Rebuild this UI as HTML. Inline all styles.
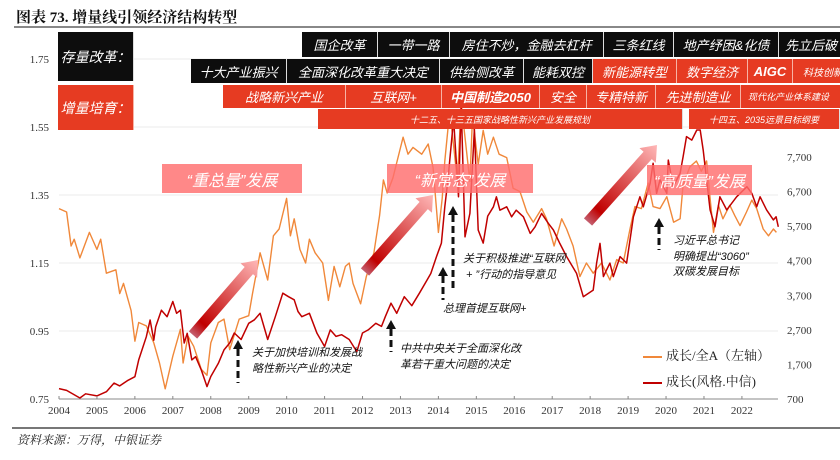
<!DOCTYPE html>
<html><head><meta charset="utf-8">
<style>
body{margin:0;background:#fff;}
#wrap{position:relative;width:840px;height:460px;overflow:hidden;background:#fff;font-family:"Liberation Sans","Noto Sans CJK SC",sans-serif;}
.box{position:absolute;color:#fff;font-style:italic;display:flex;align-items:center;justify-content:center;white-space:nowrap;overflow:hidden;box-sizing:border-box;border-right:1px solid #ddd;}
.blk{background:#0d0d0d;font-size:13px;}
.red{background:#e63b22;font-size:13px;border-right:1px solid #f7b3a5;}
.r4{background:#e63b22;font-size:9px;}
.ban{position:absolute;background:rgba(255,110,110,0.82);color:#fff;font-style:italic;font-size:16px;display:flex;align-items:center;justify-content:center;}
.note{position:absolute;font-style:italic;font-size:11px;color:#111;line-height:15.5px;white-space:nowrap;}
</style></head><body>
<div id="wrap">
<div style="position:absolute;left:16px;top:6px;font-size:15px;font-weight:bold;color:#111;font-family:'Liberation Serif','Noto Serif CJK SC',serif;">图表 73. 增量线引领经济结构转型</div>
<div style="position:absolute;left:14px;top:26px;width:826px;height:2px;background:#888;"></div>
<svg id="svg" width="840" height="460" style="position:absolute;left:0;top:0">
<defs>
<linearGradient id="ag" x1="0" y1="0" x2="1" y2="0">
<stop offset="0" stop-color="#c46070"/><stop offset="0.15" stop-color="#c00000"/><stop offset="1" stop-color="#ffb8b8"/>
</linearGradient>
</defs>
<g id="grid"></g><g id="lines"></g><g id="axes"></g>
</svg>

<!-- band rows -->
<div class="box blk" style="left:58px;top:32px;width:76px;height:49px;font-size:14px;">存量改革：</div>
<div class="box red" style="left:58px;top:85px;width:76px;height:45px;font-size:14px;background:#e63b22;">增量培育：</div>

<div class="box blk" style="left:302px;top:32px;width:76px;height:25px;">国企改革</div>
<div class="box blk" style="left:378px;top:32px;width:72px;height:25px;">一带一路</div>
<div class="box blk" style="left:450px;top:32px;width:154px;height:25px;">房住不炒，金融去杠杆</div>
<div class="box blk" style="left:604px;top:32px;width:70px;height:25px;">三条红线</div>
<div class="box blk" style="left:674px;top:32px;width:105px;height:25px;">地产纾困&amp;化债</div>
<div class="box blk" style="left:779px;top:32px;width:70px;height:25px;justify-content:flex-start;padding-left:6px;">先立后破</div>

<div class="box blk" style="left:191px;top:59px;width:96px;height:24px;">十大产业振兴</div>
<div class="box blk" style="left:287px;top:59px;width:153px;height:24px;">全面深化改革重大决定</div>
<div class="box blk" style="left:440px;top:59px;width:84px;height:24px;">供给侧改革</div>
<div class="box blk" style="left:524px;top:59px;width:69px;height:24px;">能耗双控</div>
<div class="box red" style="left:593px;top:59px;width:84px;height:24px;">新能源转型</div>
<div class="box red" style="left:677px;top:59px;width:71px;height:24px;">数字经济</div>
<div class="box red" style="left:748px;top:59px;width:45px;height:24px;font-weight:bold;">AIGC</div>
<div class="box red" style="left:793px;top:59px;width:60px;height:24px;font-size:10px;justify-content:flex-start;padding-left:10px;">科技创新</div>

<div class="box red" style="left:223px;top:85px;width:123px;height:23px;">战略新兴产业</div>
<div class="box red" style="left:346px;top:85px;width:96px;height:23px;">互联网+</div>
<div class="box red" style="left:442px;top:85px;width:98px;height:23px;font-weight:bold;">中国制造2050</div>
<div class="box red" style="left:540px;top:85px;width:47px;height:23px;">安全</div>
<div class="box red" style="left:587px;top:85px;width:69px;height:23px;">专精特新</div>
<div class="box red" style="left:656px;top:85px;width:85px;height:23px;">先进制造业</div>
<div class="box red" style="left:741px;top:85px;width:110px;height:23px;font-size:9px;justify-content:flex-start;padding-left:7px;">现代化产业体系建设</div>

<div class="box r4" style="left:318px;top:109px;width:365px;height:20px;">十二五、十三五国家战略性新兴产业发展规划</div>
<div class="box r4" style="left:689px;top:109px;width:151px;height:20px;">十四五、2035远景目标纲要</div>

<div class="ban" style="left:162px;top:164px;width:140px;height:29px;">“重总量”发展</div>
<div class="ban" style="left:387px;top:164px;width:146px;height:29px;">“新常态”发展</div>
<div class="ban" style="left:647px;top:165px;width:105px;height:30px;">“高质量”发展</div>

<svg width="840" height="460" style="position:absolute;left:0;top:0" id="ov"></svg>

<div class="note" style="left:252px;top:346px;">关于加快培训和发展战<br>略性新兴产业的决定</div>
<div class="note" style="left:400px;top:342px;">中共中央关于全面深化改<br>革若干重大问题的决定</div>
<div class="note" style="left:443px;top:302px;">总理首提互联网+</div>
<div class="note" style="left:463px;top:252px;">关于积极推进“互联网<br>&nbsp;+ ”行动的指导意见</div>
<div class="note" style="left:673px;top:234px;">习近平总书记<br>明确提出“3060”<br>双碳发展目标</div>

<div style="position:absolute;left:643px;top:345px;font-size:13px;color:#222;font-family:'Liberation Serif','Noto Serif CJK SC',serif;white-space:nowrap;"><span style="display:inline-block;width:19px;height:2px;background:#f0883a;vertical-align:middle;margin-right:4px;"></span>成长/全A（左轴）</div>
<div style="position:absolute;left:643px;top:371px;font-size:13px;color:#222;font-family:'Liberation Serif','Noto Serif CJK SC',serif;white-space:nowrap;"><span style="display:inline-block;width:19px;height:2px;background:#c00000;vertical-align:middle;margin-right:4px;"></span>成长(风格.中信)</div>

<div style="position:absolute;left:12px;top:427px;width:828px;height:2px;background:#777;"></div>
<div style="position:absolute;left:17px;top:431px;font-size:12px;font-style:italic;color:#222;font-family:'Liberation Serif','Noto Serif CJK SC',serif;">资料来源：万得，中银证券</div>
</div>

<script>
const years = [2004,2005,2006,2007,2008,2009,2010,2011,2012,2013,2014,2015,2016,2017,2018,2019,2020,2021,2022];
const leftTicks = [0.75,0.95,1.15,1.35,1.55,1.75];
const rightTicks = [700,1700,2700,3700,4700,5700,6700,7700];
const rightTickLabels = ["700","1,700","2,700","3,700","4,700","5,700","6,700","7,700"];
const ratioDates = [2004.0,2004.2,2004.32,2004.4,2004.55,2004.8,2005.0,2005.1,2005.25,2005.5,2005.6,2005.7,2005.9,2006.0,2006.1,2006.3,2006.5,2006.65,2006.8,2007.0,2007.2,2007.27,2007.4,2007.55,2007.75,2007.9,2008.0,2008.2,2008.35,2008.5,2008.75,2009.0,2009.1,2009.3,2009.5,2009.65,2009.8,2010.0,2010.1,2010.2,2010.35,2010.5,2010.6,2010.75,2010.95,2011.1,2011.25,2011.4,2011.55,2011.65,2011.75,2011.95,2012.1,2012.3,2012.45,2012.55,2012.65,2012.8,2013.07,2013.2,2013.33,2013.56,2013.73,2013.86,2014.0,2014.1,2014.17,2014.3,2014.5,2014.6,2014.83,2014.9,2015.05,2015.18,2015.3,2015.45,2015.6,2015.8,2015.97,2016.15,2016.33,2016.5,2016.72,2016.85,2017.05,2017.25,2017.38,2017.55,2017.73,2017.9,2018.08,2018.3,2018.52,2018.7,2018.87,2019.05,2019.18,2019.35,2019.53,2019.66,2019.84,2020.02,2020.2,2020.37,2020.45,2020.63,2020.8,2020.93,2021.07,2021.16,2021.25,2021.38,2021.5,2021.68,2021.81,2021.95,2022.12,2022.26,2022.39,2022.56,2022.7,2022.83,2022.91];
const ratioValues = [1.31,1.30,1.20,1.22,1.165,1.24,1.19,1.22,1.12,1.13,1.06,1.09,1.01,0.92,0.975,0.965,0.915,0.856,0.78,0.876,0.955,0.856,0.935,0.905,0.837,0.82,0.915,0.975,0.985,0.895,0.985,0.995,1.06,1.18,1.10,1.23,1.25,1.34,1.23,1.28,1.19,1.15,1.22,1.18,1.15,1.04,1.14,1.08,1.14,1.15,1.09,1.03,1.11,1.18,1.29,1.394,1.356,1.40,1.52,1.47,1.49,1.47,1.50,1.43,1.24,1.34,1.45,1.60,1.39,1.62,1.39,1.58,1.44,1.54,1.47,1.52,1.47,1.46,1.37,1.36,1.30,1.27,1.31,1.28,1.20,1.28,1.25,1.20,1.11,1.15,1.12,1.15,1.10,1.16,1.15,1.25,1.316,1.31,1.385,1.316,1.31,1.345,1.27,1.28,1.38,1.433,1.45,1.42,1.45,1.34,1.24,1.32,1.28,1.32,1.29,1.26,1.30,1.335,1.31,1.25,1.23,1.25,1.24];
const indexDates = [2004.0,2004.2,2004.55,2004.7,2005.0,2005.25,2005.45,2005.6,2005.8,2006.0,2006.1,2006.3,2006.4,2006.5,2006.55,2006.7,2006.85,2007.0,2007.1,2007.2,2007.3,2007.38,2007.5,2007.6,2007.75,2007.9,2008.0,2008.2,2008.35,2008.5,2008.62,2008.8,2009.0,2009.15,2009.3,2009.5,2009.7,2009.9,2010.05,2010.2,2010.3,2010.4,2010.6,2010.8,2011.0,2011.15,2011.3,2011.45,2011.65,2011.85,2012.0,2012.15,2012.35,2012.5,2012.6,2012.75,2012.9,2013.1,2013.3,2013.5,2013.7,2013.8,2013.95,2014.08,2014.17,2014.25,2014.4,2014.53,2014.6,2014.7,2014.83,2014.95,2015.05,2015.18,2015.3,2015.45,2015.53,2015.62,2015.8,2015.93,2016.05,2016.24,2016.42,2016.55,2016.72,2016.9,2017.03,2017.2,2017.38,2017.64,2017.82,2018.08,2018.17,2018.26,2018.35,2018.52,2018.61,2018.79,2018.96,2019.05,2019.14,2019.31,2019.4,2019.58,2019.66,2019.75,2019.84,2020.02,2020.06,2020.19,2020.37,2020.45,2020.54,2020.68,2020.81,2020.9,2020.98,2021.16,2021.29,2021.42,2021.6,2021.86,2022.13,2022.26,2022.39,2022.48,2022.65,2022.83,2022.9,2022.96];
const indexValues = [1000,950,730,850,790,910,1160,1080,1230,1345,1830,2500,2985,2400,2790,3270,3080,3520,3180,3270,2320,2600,1830,1925,1540,1060,1350,1730,2120,2320,2610,2420,2890,2990,3180,2420,3080,3760,3660,3570,3230,3080,3180,2600,2220,2700,2510,2560,2420,2070,2610,2700,2890,2800,3080,3470,3180,3660,3400,3760,4140,4330,4820,5210,6260,7030,8800,6550,9200,5390,6070,8500,5590,5210,5990,6260,6550,6160,6260,5970,6160,5970,5490,5680,6070,5780,5590,5200,4820,4340,3660,3850,4630,5200,4240,4630,4240,4820,4630,5300,5970,6550,6260,6940,7520,6650,7040,6650,7610,6840,7230,7710,8290,8190,8480,8480,7900,6170,5680,6550,6170,6550,6840,6650,6260,6550,6170,5880,5970,5680];

const NS="http://www.w3.org/2000/svg";
const X0=59, YW=37.94, XR=778;
function xs(t){return X0+(t-2004)*YW;}
function yl(v){return 399-(v-0.75)*340;}
function yr(v){return 399-(v-700)*0.03457;}
function mk(tag,attrs,parent){const e=document.createElementNS(NS,tag);for(const k in attrs)e.setAttribute(k,attrs[k]);parent.appendChild(e);return e;}
const grid=document.getElementById('grid'), lines=document.getElementById('lines'), axes=document.getElementById('axes');
leftTicks.forEach((v,i)=>{
  const g=mk('line',{x1:X0,x2:XR,y1:yl(v),y2:yl(v),stroke:'#ebebeb','stroke-width':1},grid);
  
  
  const t=mk('text',{x:49,y:yl(v)+4,'text-anchor':'end','font-size':11,'font-family':'Liberation Serif, serif',fill:'#333'},axes);
  t.textContent=v.toFixed(2);
  
  
});
rightTicks.forEach((v,i)=>{
  const t=mk('text',{x:787,y:yr(v)+4,'font-size':11,'font-family':'Liberation Serif, serif',fill:'#333'},axes);
  t.textContent=rightTickLabels[i];
  
  
});
const ax=mk('line',{x1:X0,x2:XR,y1:399,y2:399,stroke:'#888','stroke-width':1},axes);


years.forEach(y=>{
  const tk=mk('line',{x1:xs(y),x2:xs(y),y1:396,y2:399,stroke:'#888'},axes);
  
  
  const t=mk('text',{x:xs(y),y:414,'text-anchor':'middle','font-size':11,'font-family':'Liberation Serif, serif',fill:'#333'},axes);
  t.textContent=y;
  
  
});
const pO=mk('polyline',{points:ratioDates.map((d,i)=>xs(d).toFixed(1)+','+yl(ratioValues[i]).toFixed(1)).join(' '),fill:'none',stroke:'#f0883a','stroke-width':1.4,'stroke-linejoin':'round'},lines);


const pR=mk('polyline',{points:indexDates.map((d,i)=>xs(d).toFixed(1)+','+yr(indexValues[i]).toFixed(1)).join(' '),fill:'none',stroke:'#c00000','stroke-width':1.5,'stroke-linejoin':'round'},lines);



// overlay annotations
const ov=document.getElementById('ov');
function bigArrow(x1,y1,x2,y2,name){
  const L=Math.hypot(x2-x1,y2-y1), a=Math.atan2(y2-y1,x2-x1)*180/Math.PI;
  const g=mk('g',{transform:`translate(${x1},${y1}) rotate(${a})`},ov);
  
  
  mk('polygon',{points:`0,-5.5 ${L-14},-5.5 ${L-14},-11 ${L},0 ${L-14},11 ${L-14},5.5 0,5.5`,fill:'url(#ag)'},g);
}
bigArrow(193,335,258,260,'trend-arrow-1');
bigArrow(365,272,433,195,'trend-arrow-2');
bigArrow(588,222,657,145,'trend-arrow-3');
function dashArrow(x,yt,yb,name){
  const g=mk('g',{},ov);
  
  
  mk('line',{x1:x,x2:x,y1:yt+9,y2:yb,stroke:'#111','stroke-width':3,'stroke-dasharray':'7,4'},g);
  mk('polygon',{points:`${x},${yt} ${x-5},${yt+9} ${x+5},${yt+9}`,fill:'#111'},g);
}
dashArrow(238,340,383,'event-arrow-2010');
dashArrow(391,320,352,'event-arrow-2013');
dashArrow(443,267,300,'event-arrow-2014a');
dashArrow(453,206,290,'event-arrow-2014b');
dashArrow(659,218,250,'event-arrow-2020');
</script>
</body></html>
